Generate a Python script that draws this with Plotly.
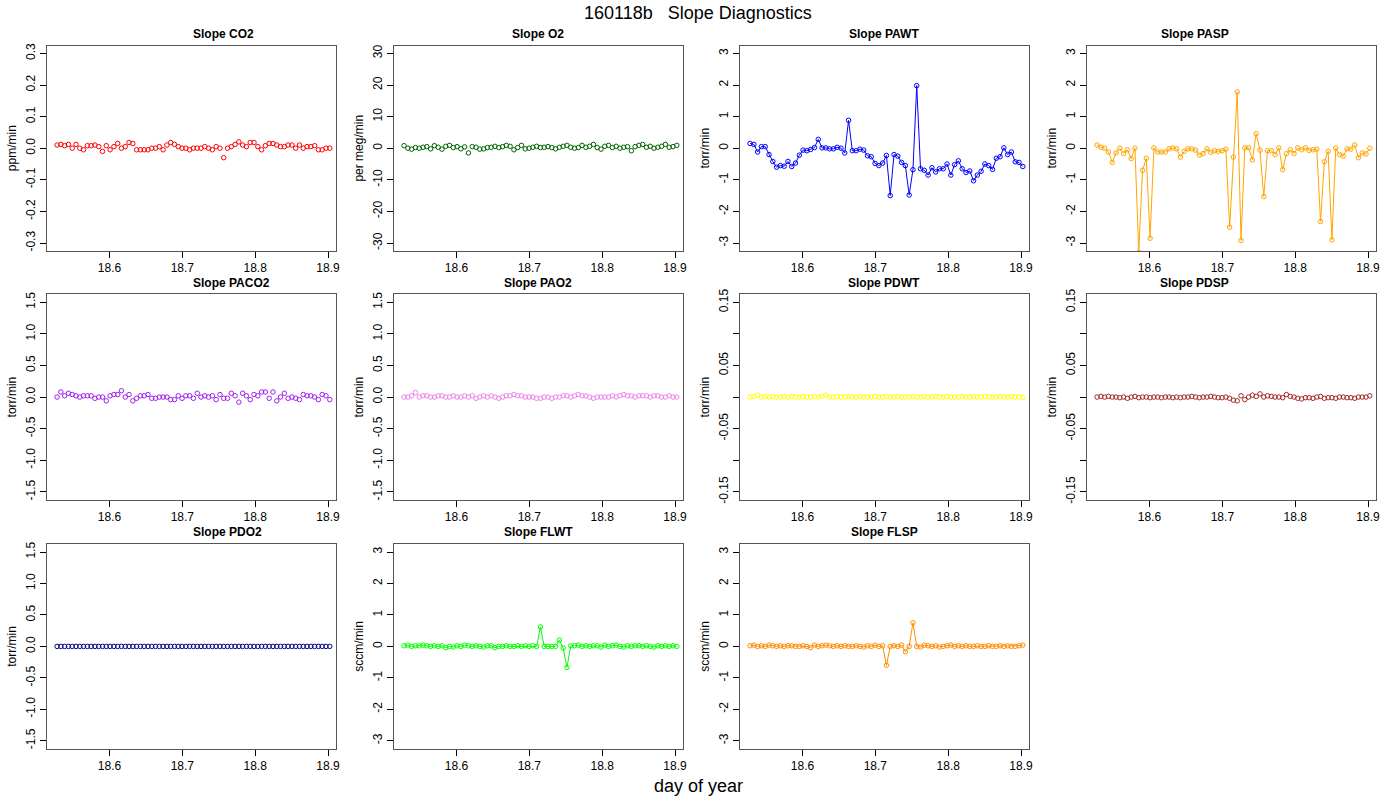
import plotly.graph_objects as go

n = 73
day = [round(18.528 + i * 0.0052, 4) for i in range(n)]

co2 = [0.01,0.012,0.008,0.012,0.0,0.012,0.0,-0.005,0.008,0.008,0.01,0.005,-0.01,0.008,-0.005,0.005,0.015,0.0,0.005,0.018,0.015,-0.005,-0.005,-0.005,-0.005,0.0,0.0,0.005,-0.005,0.01,0.018,0.012,0.005,0.0,0.0,-0.005,0.0,0.0,0.0,0.005,0.0,-0.005,0.005,0.0,-0.03,0.0,0.005,0.012,0.02,0.01,0.005,0.018,0.018,0.005,-0.005,0.008,0.015,0.015,0.01,0.005,0.005,0.01,0.01,0.0,0.01,0.0,0.005,0.005,0.008,-0.005,-0.005,0.0,0.0]
o2 = [0.8,0.0,-0.3,0.2,0.0,0.3,0.5,-0.2,0.8,0.3,-0.3,0.6,0.9,0.2,0.5,-0.2,0.4,-1.5,0.5,0.3,-0.3,-0.2,0.2,0.3,0.6,0.2,0.5,0.9,0.6,-0.5,0.2,0.9,-0.2,0.0,0.3,0.6,0.2,0.3,0.5,0.2,-0.2,0.3,0.6,0.9,0.3,0.0,0.2,0.9,0.3,0.6,1.2,0.2,-0.3,0.6,0.9,0.2,0.6,0.0,0.3,0.5,-0.8,0.5,0.9,1.2,0.3,0.6,0.0,0.3,0.6,1.2,0.3,0.5,0.9]
pawt = [0.15,0.12,-0.12,0.05,0.05,-0.2,-0.42,-0.6,-0.55,-0.57,-0.42,-0.58,-0.47,-0.22,-0.06,-0.08,-0.04,0.02,0.28,0.01,0.01,-0.02,-0.02,0.03,0.0,-0.15,0.88,-0.08,-0.08,-0.03,-0.06,-0.24,-0.27,-0.48,-0.55,-0.47,-0.23,-1.5,-0.2,-0.25,-0.45,-0.55,-1.48,-0.68,1.98,-0.65,-0.7,-0.85,-0.62,-0.75,-0.65,-0.65,-0.5,-0.85,-0.52,-0.4,-0.65,-0.77,-0.72,-1.03,-0.85,-0.73,-0.5,-0.55,-0.67,-0.32,-0.27,0.01,-0.2,-0.12,-0.43,-0.45,-0.58]
pasp = [0.1,0.03,0.0,-0.12,-0.45,-0.15,0.0,-0.17,-0.05,-0.33,0.0,-3.3,-0.7,-0.32,-2.85,0.01,-0.12,-0.12,-0.12,-0.02,0.01,-0.02,-0.28,-0.1,-0.02,-0.02,-0.06,-0.22,-0.17,-0.02,-0.13,-0.08,-0.1,-0.08,-0.03,-2.5,-0.28,1.78,-2.92,0.01,0.02,-0.37,0.46,-0.06,-1.53,-0.08,-0.08,-0.2,0.01,-0.68,-0.17,-0.05,-0.17,0.01,-0.05,0.01,-0.07,-0.05,-0.03,-2.32,-0.43,-0.1,-2.9,0.0,-0.2,-0.25,-0.02,-0.03,0.1,-0.3,-0.15,-0.18,0.0]
paco2 = [0.0,0.08,0.02,0.06,0.04,0.02,0.0,0.02,0.02,0.02,-0.02,0.0,0.0,-0.06,0.02,0.04,0.04,0.1,0.0,0.04,-0.06,-0.02,0.02,0.02,0.04,-0.02,-0.02,0.0,0.0,0.0,-0.04,-0.04,0.02,-0.02,0.02,0.02,-0.02,0.06,0.0,0.02,0.0,0.02,-0.04,0.04,-0.02,-0.02,0.06,0.02,-0.08,0.06,0.02,-0.04,0.04,0.02,0.08,0.08,-0.02,0.08,-0.06,0.0,0.06,-0.02,0.0,-0.02,-0.04,0.04,0.02,0.02,0.0,-0.04,0.04,0.02,-0.04]
pao2 = [0.0,0.0,0.02,0.07,0.0,0.02,0.02,0.0,0.0,0.02,0.02,0.0,0.0,0.02,0.0,0.0,0.02,0.0,0.02,-0.02,0.0,0.02,0.0,0.02,0.0,-0.02,0.0,0.02,0.02,0.04,0.02,0.02,0.0,0.0,0.0,-0.02,-0.02,0.0,0.0,-0.02,0.0,0.0,0.02,0.02,0.0,0.02,0.04,0.02,0.02,0.0,-0.02,0.0,0.0,0.0,0.0,0.02,0.0,0.02,0.04,0.02,0.02,0.0,0.02,0.02,0.02,0.0,0.02,0.02,0.0,0.0,0.02,0.0,0.0]
pdwt = [0.0,0.001,0.003,0.0,0.001,0.0,0.001,0.0,0.0,0.001,0.0,0.001,0.0,0.0,0.001,0.0,0.0,0.001,0.0,0.001,0.003,0.0,0.0,0.001,0.0,0.0,0.001,0.0,0.0,0.001,0.0,0.0,0.0,0.001,0.0,0.0,0.001,0.0,0.0,0.001,0.0,0.0,0.0,0.001,0.0,0.0,0.001,0.0,0.0,0.001,0.0,0.0,0.001,0.0,0.0,0.0,0.001,0.0,0.0,0.001,0.0,0.0,0.001,0.0,0.0,0.0,0.001,0.0,0.0,0.001,0.0,0.0,-0.001]
pdsp = [0.0,0.001,0.0,0.001,0.0,0.0,-0.001,0.0,-0.002,0.0,0.001,-0.001,0.0,0.0,-0.001,0.0,0.0,-0.001,0.0,0.0,-0.001,0.0,-0.001,0.0,0.0,0.001,0.0,-0.001,0.0,0.0,0.001,0.0,-0.001,-0.001,0.0,-0.002,-0.005,-0.006,0.002,-0.004,0.0,0.003,0.001,0.005,0.0,0.002,0.001,0.0,0.0,-0.001,0.004,0.001,0.0,-0.002,-0.003,-0.001,-0.001,-0.002,0.0,0.001,-0.002,-0.001,-0.001,-0.002,0.0,0.0,-0.001,-0.001,-0.002,0.0,0.0,0.0,0.002]
pdo2 = [0.0] * n
flwt = [0.02,0.04,0.0,0.02,0.02,0.04,0.02,0.0,0.02,0.0,0.02,-0.04,0.0,-0.02,0.02,0.0,0.04,0.02,0.0,0.02,0.0,-0.02,0.02,0.02,-0.04,0.0,0.0,0.02,0.0,0.0,0.02,0.0,0.02,0.0,0.02,0.0,0.62,0.0,0.0,0.0,0.0,0.2,-0.05,-0.67,0.02,0.02,0.04,0.0,0.02,0.0,0.02,0.02,-0.02,0.04,0.0,0.02,0.04,0.0,-0.02,0.02,0.0,0.02,0.02,0.0,0.02,0.0,-0.02,0.02,0.0,0.02,0.0,0.02,0.0]
flsp = [0.02,0.04,0.0,0.02,0.0,0.04,0.02,0.0,0.02,0.0,0.02,0.02,0.0,0.0,0.02,0.0,-0.04,0.04,0.0,0.02,0.04,0.02,0.0,0.02,0.0,0.02,0.0,0.0,0.02,0.0,-0.02,0.02,0.0,0.04,0.0,0.02,-0.6,0.0,0.02,0.0,0.04,-0.17,0.0,0.75,0.0,-0.02,0.04,0.02,0.0,0.02,-0.02,0.0,0.02,0.04,0.0,0.02,0.0,0.02,0.0,0.0,0.02,0.0,0.0,0.02,0.0,0.0,0.02,0.0,0.02,0.0,0.0,0.02,0.04]

panels = [
    ("Slope CO2", co2, "red", "ppm/min", 0.325, [-0.3,-0.2,-0.1,0,0.1,0.2,0.3], ["-0.3","-0.2","-0.1","0.0","0.1","0.2","0.3"], False),
    ("Slope O2", o2, "darkgreen", "per meg/min", 32.5, [-30,-20,-10,0,10,20,30], ["-30","-20","-10","0","10","20","30"], False),
    ("Slope PAWT", pawt, "blue", "torr/min", 3.25, [-3,-2,-1,0,1,2,3], ["-3","-2","-1","0","1","2","3"], True),
    ("Slope PASP", pasp, "orange", "torr/min", 3.25, [-3,-2,-1,0,1,2,3], ["-3","-2","-1","0","1","2","3"], True),
    ("Slope PACO2", paco2, "#a020f0", "torr/min", 1.625, [-1.5,-1,-0.5,0,0.5,1,1.5], ["-1.5","-1.0","-0.5","0.0","0.5","1.0","1.5"], False),
    ("Slope PAO2", pao2, "violet", "torr/min", 1.625, [-1.5,-1,-0.5,0,0.5,1,1.5], ["-1.5","-1.0","-0.5","0.0","0.5","1.0","1.5"], False),
    ("Slope PDWT", pdwt, "yellow", "torr/min", 0.1625, [-0.15,-0.1,-0.05,0,0.05,0.1,0.15], ["-0.15","","-0.05","","0.05","","0.15"], False),
    ("Slope PDSP", pdsp, "brown", "torr/min", 0.1625, [-0.15,-0.1,-0.05,0,0.05,0.1,0.15], ["-0.15","","-0.05","","0.05","","0.15"], False),
    ("Slope PDO2", pdo2, "navy", "torr/min", 1.625, [-1.5,-1,-0.5,0,0.5,1,1.5], ["-1.5","-1.0","-0.5","0.0","0.5","1.0","1.5"], False),
    ("Slope FLWT", flwt, "#00ff00", "sccm/min", 3.25, [-3,-2,-1,0,1,2,3], ["-3","-2","-1","0","1","2","3"], True),
    ("Slope FLSP", flsp, "darkorange", "sccm/min", 3.25, [-3,-2,-1,0,1,2,3], ["-3","-2","-1","0","1","2","3"], True),
]

W, H = 1400, 800
colx = [(47, 337), (395, 685), (742, 1032), (1090, 1380)]
rowy = [(40, 248), (292, 500), (545, 752)]
FONT = "Liberation Sans, Arial, sans-serif"

fig = go.Figure()
for k, (title, vals, col, ylab, yr, tv, tt, lines) in enumerate(panels):
    r, c = divmod(k, 4)
    i = k + 1
    xa = "x" if i == 1 else f"x{i}"
    ya = "y" if i == 1 else f"y{i}"
    fig.add_trace(go.Scatter(
        x=day, y=vals, xaxis=xa, yaxis=ya,
        mode="lines+markers" if lines else "markers",
        line=dict(color=col, width=1),
        marker=dict(symbol="circle-open", size=4.5, color=col, line=dict(width=1, color=col)),
        showlegend=False, cliponaxis=True))
    x0, x1 = colx[c]
    y0, y1 = rowy[r]
    common = dict(showline=True, linecolor="#555", mirror=True, ticks="outside",
                  ticklen=6, tickcolor="black", showgrid=False, zeroline=False,
                  tickfont=dict(family=FONT, size=12, color="black"))
    fig.layout[("xaxis" if i == 1 else f"xaxis{i}")] = dict(
        domain=[x0 / W, x1 / W], anchor=ya, range=[18.514, 18.911],
        tickvals=[18.6, 18.7, 18.8, 18.9], ticktext=["18.6", "18.7", "18.8", "18.9"], **common)
    fig.layout[("yaxis" if i == 1 else f"yaxis{i}")] = dict(
        domain=[1 - y1 / H, 1 - y0 / H], anchor=xa, range=[-yr, yr],
        tickvals=tv, ticktext=tt, tickangle=-90,
        title=dict(text=ylab, font=dict(family=FONT, size=12, color="black"), standoff=4), **common)
    fig.add_annotation(text=f"<b>{title}</b>", x=(x0 + x1) / 2 / W, y=1 - (y0 - 12) / H,
                       xref="paper", yref="paper", showarrow=False, yanchor="middle",
                       font=dict(family=FONT, size=12, color="black"))

fig.add_annotation(text="160118b   Slope Diagnostics", x=0.5, y=1 - 7 / H, xref="paper", yref="paper",
                   showarrow=False, yanchor="middle", font=dict(family=FONT, size=18, color="black"))
fig.add_annotation(text="day of year", x=0.5, y=1 - 790 / H, xref="paper", yref="paper",
                   showarrow=False, yanchor="middle", font=dict(family=FONT, size=18, color="black"))

fig.update_layout(width=W, height=H, margin=dict(l=0, r=0, t=0, b=0),
                  plot_bgcolor="white", paper_bgcolor="white")
fig.write_html("out.html", config={"displayModeBar": False},
               post_script="document.body.style.margin='0';document.body.style.overflow='hidden';")
